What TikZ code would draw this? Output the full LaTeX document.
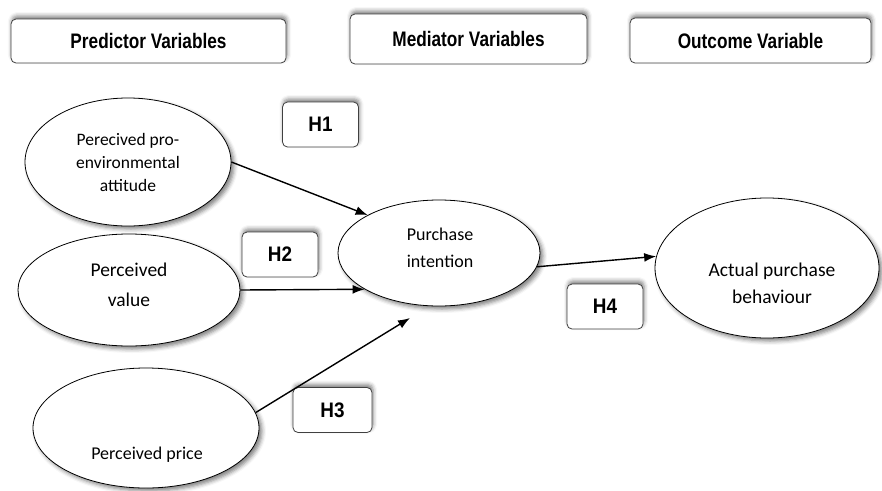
\documentclass[tikz,border=0pt]{standalone}
\usepackage{fontspec}
\setmainfont{Carlito}
\newfontfamily\headfont[FakeStretch=0.82]{Liberation Sans}
\newfontfamily\hypfont[FakeStretch=0.9]{Liberation Sans}
\usetikzlibrary{shapes.geometric,shadows.blur,arrows.meta}
\tikzset{>={Latex[length=12pt,width=9pt]}}

\begin{document}
\begin{tikzpicture}
    [x=1pt,y=-1pt,
     headbox/.style={draw=black!75,fill=white,rounded corners=5pt,line width=0.8pt,inner sep=0pt,
        font=\headfont\bfseries\fontsize{21}{24}\selectfont,
        blur shadow={shadow xshift=1pt,shadow yshift=3pt,shadow blur radius=4pt,shadow opacity=50}},
     hbox/.style={draw=black!75,fill=white,rounded corners=5pt,line width=0.8pt,inner sep=0pt,
        minimum width=76pt,minimum height=45pt,
        font=\hypfont\bfseries\fontsize{21}{24}\selectfont,
        blur shadow={shadow xshift=1pt,shadow yshift=3pt,shadow blur radius=4pt,shadow opacity=50}},
     varell/.style={ellipse,draw=black,fill=white,line width=0.8pt,inner sep=0pt,
        blur shadow={shadow xshift=3pt,shadow yshift=-3pt,shadow blur radius=4pt,shadow opacity=50}},
     vartext/.style={align=center,inner sep=0pt}]
    \useasboundingbox (0,0) rectangle (882,490);

    % column headings
    \node[headbox,minimum width=275pt,minimum height=44pt] (pred) at (148.5,41) {Predictor Variables};
    \node[headbox,minimum width=237pt,minimum height=50pt] (med) at (468.5,39) {Mediator Variables};
    \node[headbox,minimum width=241pt,minimum height=45pt] (outc) at (750.5,40.5) {Outcome Variable};

    % variables
    \node[varell,minimum width=206pt,minimum height=128pt] (pa) at (128,162) {};
    \node[varell,minimum width=222pt,minimum height=112pt] (pv) at (129,290) {};
    \node[varell,minimum width=226pt,minimum height=120pt] (pp) at (146,428) {};
    \node[varell,minimum width=202pt,minimum height=106pt] (pi) at (439,253) {};
    \node[varell,minimum width=224pt,minimum height=140pt] (ab) at (767,268) {};

    \node[vartext,font=\fontsize{17.5}{23}\selectfont] (pat) at (128,162) {Perecived pro-\\environmental\\attitude};
    \node[vartext,font=\fontsize{19.5}{30}\selectfont] (pvt) at (129,285) {Perceived\\value};
    \node[vartext,font=\fontsize{18}{22}\selectfont] (ppt) at (147,455) {Perceived price};
    \node[vartext,font=\fontsize{18}{27}\selectfont] (pit) at (440,248) {Purchase\\intention};
    \node[vartext,font=\fontsize{19.5}{27}\selectfont] (abt) at (772,283) {Actual purchase\\behaviour};

    % hypotheses
    \node[hbox] (h1) at (320.5,124.5) {H1};
    \node[hbox] (h2) at (280,254.5) {H2};
    \node[hbox,minimum width=79pt] (h3) at (332.5,410) {H3};
    \node[hbox] (h4) at (605,306.5) {H4};

    \coordinate (h3tip) at (410,318);

    \draw[->,line width=1.4pt] (pa.east) -- (pi.152);
    \draw[->,line width=1.4pt] (pv.east) -- (pi.206.6);
    \draw[->,line width=1.4pt] (pp.8) -- (h3tip);
    \draw[->,line width=1.4pt] (pi.-8) -- (ab.174);
\end{tikzpicture}
\end{document}
